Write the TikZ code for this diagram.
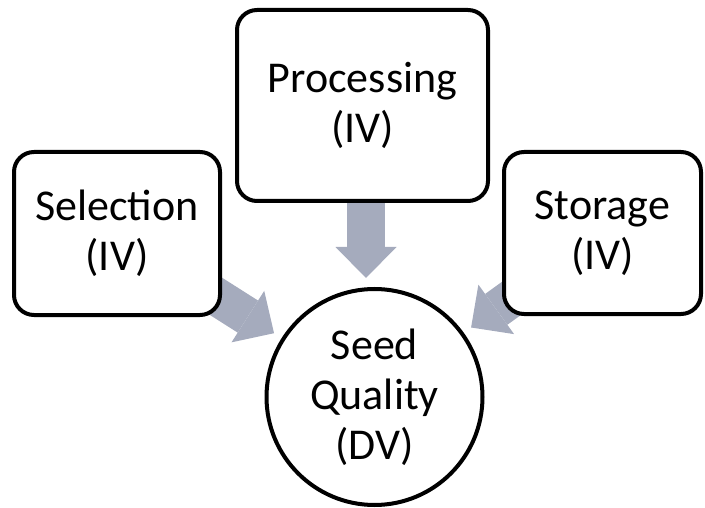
\documentclass[tikz,border=0pt]{standalone}
\usepackage{fontspec}
\setmainfont{Carlito}
\usetikzlibrary{arrows.meta,backgrounds}
\definecolor{arrowgray}{RGB}{165,171,189}
\begin{document}
\begin{tikzpicture}[x=1pt,y=-1pt,
  box/.style={draw=black,line width=4pt,fill=white,rounded corners=20pt,
    inner sep=0pt,align=center,font=\fontsize{44}{50}\selectfont},
  dv/.style={draw=black,line width=4pt,fill=white,circle,inner sep=0pt,
    minimum size=216pt,align=center,font=\fontsize{44}{50}\selectfont},
  bigarrow/.style={draw=arrowgray,line width=38pt,
    -{Triangle[length=31pt,width=61pt,line width=0pt]}}]
\useasboundingbox (0,0) rectangle (705,508);
\node[box,minimum width=206pt,minimum height=163pt] (sel) at (117,233.5) {Selection\\(IV)};
\node[box,minimum width=251pt,minimum height=191pt] (proc) at (362.5,105.5) {Processing\\(IV)};
\node[box,minimum width=197pt,minimum height=162pt] (stor) at (602.5,233) {Storage\\(IV)};
\node[dv] (seed) at (374.5,397) {Seed\\Quality\\(DV)};
\begin{pgfonlayer}{background}
\draw[bigarrow,shorten <=-20pt,shorten >=9pt] (sel) -- (seed);
\draw[bigarrow,shorten <=-20pt,shorten >=9pt] (stor) -- (seed);
\draw[bigarrow,shorten <=-10pt,shorten >=9pt] ([xshift=3.5pt]proc.south) -- ([xshift=3.5pt]proc.south |- seed.north);
\end{pgfonlayer}
\end{tikzpicture}
\end{document}
